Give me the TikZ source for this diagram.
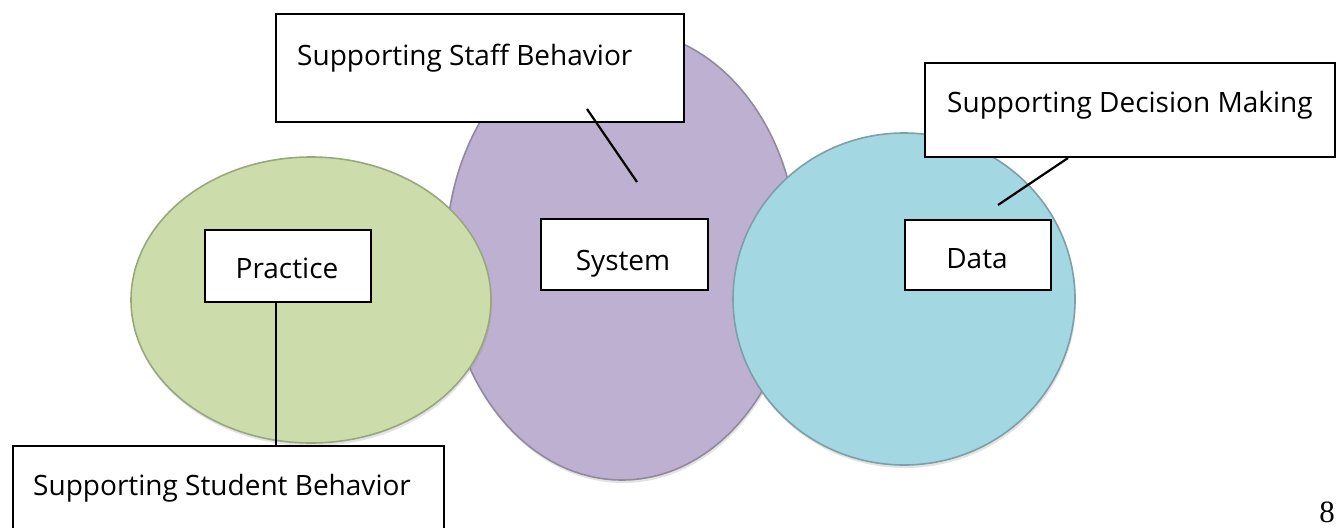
\documentclass[tikz,border=0pt]{standalone}
\usepackage{fontspec}
\setmainfont{Open Sans}
\newfontfamily\numfont{Liberation Serif}
\usetikzlibrary{shapes.geometric,shadows}
\definecolor{greenfill}{HTML}{CDDCAB}
\definecolor{greenline}{HTML}{98A87E}
\definecolor{purplefill}{HTML}{BEB0D1}
\definecolor{purpleline}{HTML}{9289A0}
\definecolor{bluefill}{HTML}{A3D7E2}
\definecolor{blueline}{HTML}{7E9FA8}
\begin{document}
\begin{tikzpicture}[x=1pt,y=-1pt,
  blob/.style={ellipse, inner sep=0pt, line width=1.6pt,
    drop shadow={shadow xshift=1pt, shadow yshift=-3pt, opacity=0.22}},
  box/.style={draw=black, fill=white, line width=1.8pt, inner sep=0pt, anchor=north west},
  lbl/.style={font=\fontsize{28}{34}\selectfont, inner sep=0pt},
  conn/.style={line width=2.2pt, draw=black}]
\clip (0,0) rectangle (1337,527);
\fill[white] (0,0) rectangle (1337,527);

% circles
\node[blob, draw=purpleline, fill=purplefill, minimum width=352pt, minimum height=450pt] (system) at (622,255) {};
\node[blob, draw=blueline, fill=bluefill, minimum width=342pt, minimum height=332pt] (data) at (904,299) {};
\node[blob, draw=greenline, fill=greenfill, minimum width=360pt, minimum height=286pt] (practice) at (311,300) {};

% boxes
\node[box, minimum width=408pt, minimum height=108pt] (staffbox) at (275,13) {};
\node[lbl, anchor=base west] (stafftext) at (297,65) {Supporting Staff Behavior};

\node[box, minimum width=410pt, minimum height=94pt] (decisionbox) at (924,62) {};
\node[lbl, anchor=base west] (decisiontext) at (947,112) {Supporting Decision Making};

\node[box, minimum width=431pt, minimum height=110pt] (studentbox) at (12,445) {};
\node[lbl, anchor=base west] (studenttext) at (33,495) {Supporting Student Behavior};

\node[box, minimum width=166pt, minimum height=72pt] (practicebox) at (204,229) {};
\node[lbl, anchor=base] (practicetext) at (287,278) {Practice};

\node[box, minimum width=167pt, minimum height=71pt] (systembox) at (540,218) {};
\node[lbl, anchor=base] (systemtext) at (623,270) {System};

\node[box, minimum width=146pt, minimum height=70pt] (databox) at (904,219) {};
\node[lbl, anchor=base] (datatext) at (977,268) {Data};

% connectors
\coordinate (staffA) at (587,109);
\coordinate (staffB) at (637,182);
\draw[conn] (staffA) -- (staffB);

\coordinate (decA) at (1068,158);
\coordinate (decB) at (998,205);
\draw[conn] (decA) -- (decB);

\coordinate (pracA) at (276,301);
\draw[conn] (pracA) -- (pracA |- studentbox.north);

% page number
\node[font=\numfont\fontsize{31}{36}\selectfont, inner sep=0pt, anchor=base] (pagenum) at (1327,522) {8};
\end{tikzpicture}
\end{document}
